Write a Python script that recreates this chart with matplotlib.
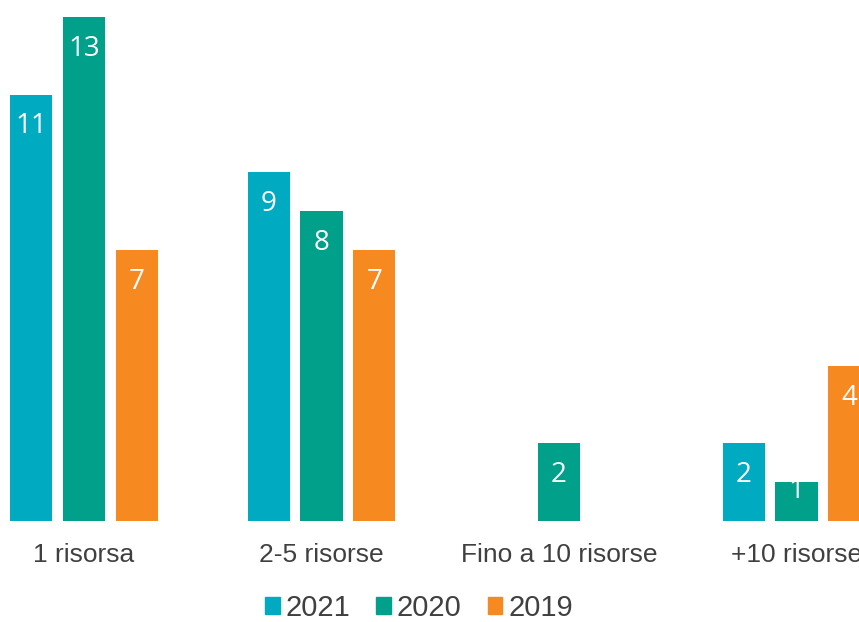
import numpy as np
import matplotlib.pyplot as plt
from matplotlib.patches import Patch

categories = ['1 risorsa', '2-5 risorse', 'Fino a 10 risorse', '+10 risorse']
years = ['2021', '2020', '2019']
v2021 = [11, 9, 0, 2]
v2020 = [13, 8, 2, 1]
v2019 = [7, 7, 0, 4]
colors = ['#00ABC2', '#00A08A', '#F6891F']

plt.rcParams['font.family'] = ['Liberation Sans', 'DejaVu Sans']
text_color = '#404040'

fig = plt.figure(figsize=(8.59, 6.22), dpi=100)
ax = fig.add_axes([0, 1 - 521 / 622, 1, 521 / 622])

x = np.arange(len(categories))
width = 0.177
step = 0.223
for i, (vals, c) in enumerate(zip([v2021, v2020, v2019], colors)):
    pos = x + (i - 1) * step
    bars = ax.bar(pos, vals, width=width, color=c)
    for b, v in zip(bars, vals):
        if v == 0:
            continue
        # short bars keep the label near the top edge
        off = -23 if v >= 2 else -6
        ax.annotate(str(v), (b.get_x() + b.get_width() / 2, v),
                    xytext=(0, off), textcoords='offset points',
                    ha='center', va='center', color='white',
                    fontsize=20, family='Open Sans')

ax.set_xlim(-84 / 237.5, (859 - 84) / 237.5)
ax.set_ylim(0, 521 / 38.77)
ax.set_xticks(x)
ax.set_xticklabels(categories, fontsize=19, color=text_color)
ax.tick_params(axis='x', length=0, pad=15.5)
ax.set_yticks([])
for s in ax.spines.values():
    s.set_visible(False)

handles = [Patch(color=c, label=y) for y, c in zip(years, colors)]
fig.legend(handles=handles, loc='center', bbox_to_anchor=(419 / 859, 1 - 608 / 622),
           ncol=3, frameon=False, fontsize=21, handlelength=0.5, handleheight=0.5,
           handletextpad=0.2, columnspacing=0.9, labelcolor=text_color)

fig.savefig('out.png', dpi=100)
